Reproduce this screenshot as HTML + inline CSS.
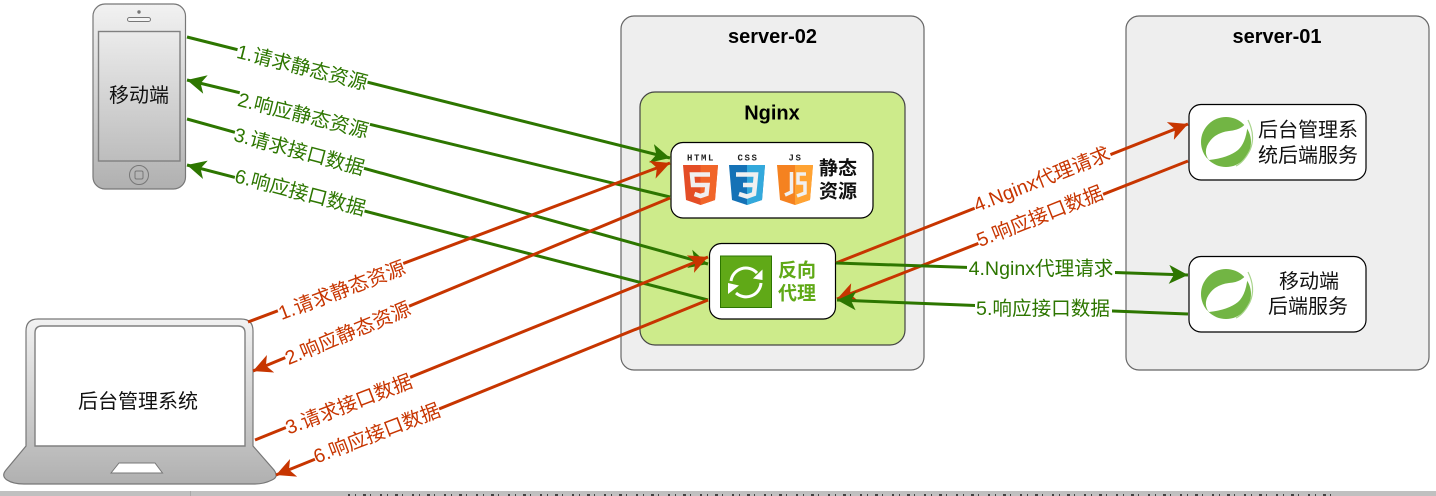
<!DOCTYPE html>
<html><head><meta charset="utf-8"><style>
html,body{margin:0;padding:0;background:#fff;width:1436px;height:496px;overflow:hidden}
svg{display:block}
text{font-family:"Liberation Sans","Noto Sans CJK SC",sans-serif}
.t{font-size:20px;fill:#111;text-anchor:middle;dominant-baseline:central}
.b{font-weight:bold;font-size:20px;fill:#000;text-anchor:middle;dominant-baseline:central}
.s{font-weight:bold;font-size:19px;fill:#111;text-anchor:middle;dominant-baseline:central}
.g{font-size:19.6px;fill:#2d7600;text-anchor:middle;dominant-baseline:central}
.o{font-size:19.6px;fill:#c73500;text-anchor:middle;dominant-baseline:central}
.m{font-size:9px;font-weight:bold;text-anchor:middle;dominant-baseline:central;fill:#222;font-family:"Liberation Mono",monospace;letter-spacing:1.6px}
.lg{stroke:#2d7600;stroke-width:3;fill:none;marker-end:url(#ag)}
.lo{stroke:#c73500;stroke-width:3;fill:none;marker-end:url(#ao)}
</style></head><body>
<svg width="1436" height="496" viewBox="0 0 1436 496" xmlns="http://www.w3.org/2000/svg">
<defs>
<marker id="ag" markerUnits="userSpaceOnUse" markerWidth="22" markerHeight="22" refX="19" refY="10" orient="auto"><path d="M19 10L0 0.500L5 10L0 19.500Z" fill="#2d7600"/></marker>
<marker id="ao" markerUnits="userSpaceOnUse" markerWidth="22" markerHeight="22" refX="19" refY="10" orient="auto"><path d="M19 10L0 0.500L5 10L0 19.500Z" fill="#c73500"/></marker>
<linearGradient id="dev" x1="0" y1="0" x2="0" y2="1"><stop offset="0" stop-color="#f2f2f2"/><stop offset="1" stop-color="#b0b0b0"/></linearGradient>
<linearGradient id="scr" x1="0" y1="0" x2="0" y2="1"><stop offset="0" stop-color="#ebebeb"/><stop offset="1" stop-color="#bdbdbd"/></linearGradient>
</defs>

<rect x="621" y="16" width="303" height="354" rx="13" fill="#eeeeee" stroke="#666" stroke-width="1.2"/>
<rect x="1126" y="16" width="303" height="354" rx="13" fill="#eeeeee" stroke="#666" stroke-width="1.2"/>
<text x="772.500" y="37" class="b">server-02</text>
<text x="1277" y="37" class="b">server-01</text>
<rect x="640" y="92" width="265" height="253" rx="15" fill="#cdeb8b" stroke="#444" stroke-width="1.2"/>
<text x="772" y="113.500" class="b">Nginx</text>

<rect x="671" y="142.500" width="202" height="75.500" rx="12" fill="#fff" stroke="#000" stroke-width="1.2"/>
<rect x="709.500" y="243.500" width="126" height="75.500" rx="12" fill="#fff" stroke="#000" stroke-width="1.2"/>
<rect x="1189" y="104.500" width="177" height="75.500" rx="12" fill="#fff" stroke="#000" stroke-width="1.2"/>
<rect x="1189" y="256.500" width="177" height="75.500" rx="12" fill="#fff" stroke="#000" stroke-width="1.2"/>

<!-- phone -->
<rect x="93" y="4" width="92.500" height="185" rx="12" fill="url(#dev)" stroke="#777" stroke-width="1.2"/>
<circle cx="139" cy="12" r="1.700" fill="#777"/>
<rect x="127.500" y="17.500" width="23" height="4" rx="2" fill="#f4f4f4" stroke="#777"/>
<rect x="98.500" y="31.500" width="81.500" height="129.500" fill="url(#scr)" stroke="#808080" stroke-width="1.4"/>
<circle cx="139" cy="175" r="9.500" fill="none" stroke="#777"/>
<rect x="135" y="171" width="8" height="8" rx="1.500" fill="none" stroke="#777"/>
<text x="139" y="96" class="t">移动端</text>

<!-- laptop -->
<path d="M26 446V331Q26 319 38 319H241Q253 319 253 331V446L274 470Q279 477 272 480Q264 484 255 484H24Q13 484 7 480Q1 476 6 470Z" fill="url(#dev)" stroke="#777" stroke-width="1.2"/>
<path d="M35 446V333Q35 326 42 326H238Q245 326 245 333V446Z" fill="#fff" stroke="#808080" stroke-width="1.4"/>
<path d="M111 473L119 463H155L162.500 473Z" fill="#fff" stroke="#777"/>
<text x="138" y="402" class="t">后台管理系统</text>

<!-- green left -->
<line x1="187" y1="37" x2="670" y2="158" class="lg"/>
<line x1="670" y1="197" x2="187" y2="80" class="lg"/>
<line x1="187" y1="119" x2="708" y2="264" class="lg"/>
<line x1="708" y1="300" x2="187" y2="165" class="lg"/>
<!-- orange left -->
<line x1="248" y1="322" x2="670" y2="163" class="lo"/>
<line x1="670" y1="198" x2="253" y2="371" class="lo"/>
<line x1="255" y1="440" x2="708" y2="257" class="lo"/>
<line x1="708" y1="300" x2="276" y2="475" class="lo"/>
<!-- right -->
<line x1="836" y1="263" x2="1188" y2="124" class="lo"/>
<line x1="1188" y1="161" x2="837" y2="299" class="lo"/>
<line x1="836" y1="263" x2="1188" y2="275" class="lg"/>
<line x1="1188" y1="314" x2="837" y2="300" class="lg"/>

<!-- labels -->
<g transform="rotate(14 302 68)"><rect x="235" y="56" width="134" height="24" fill="#fff"/><text x="302" y="68" class="g">1.请求静态资源</text></g>
<g transform="rotate(14 303 116)"><rect x="236" y="104" width="134" height="24" fill="#fff"/><text x="303" y="116" class="g">2.响应静态资源</text></g>
<g transform="rotate(15 299 152)"><rect x="232" y="140" width="134" height="24" fill="#fff"/><text x="299" y="152" class="g">3.请求接口数据</text></g>
<g transform="rotate(14.500 300 193)"><rect x="233" y="181" width="134" height="24" fill="#fff"/><text x="300" y="193" class="g">6.响应接口数据</text></g>
<g transform="rotate(-20.600 342 291)"><rect x="275" y="279" width="134" height="24" fill="#fff"/><text x="342" y="291" class="o">1.请求静态资源</text></g>
<g transform="rotate(-22.500 348 334)"><rect x="281" y="322" width="134" height="24" fill="#fff"/><text x="348" y="334" class="o">2.响应静态资源</text></g>
<g transform="rotate(-21 349 405)"><rect x="282" y="393" width="134" height="24" fill="#fff"/><text x="349" y="405" class="o">3.请求接口数据</text></g>
<g transform="rotate(-21 377 434)"><rect x="310" y="422" width="134" height="24" fill="#fff"/><text x="377" y="434" class="o">6.响应接口数据</text></g>
<g transform="rotate(-21.500 1042 180)"><rect x="969" y="168" width="146" height="24" fill="#fff"/><text x="1042" y="180" class="o">4.Nginx代理请求</text></g>
<g transform="rotate(-21.500 1040 217)"><rect x="973" y="205" width="134" height="24" fill="#fff"/><text x="1040" y="217" class="o">5.响应接口数据</text></g>
<rect x="967" y="258" width="148" height="22" fill="#fff"/><text x="1041" y="269" class="g">4.Nginx代理请求</text>
<rect x="975" y="298" width="137" height="22" fill="#fff"/><text x="1043" y="309" class="g">5.响应接口数据</text>

<!-- static icons -->
<text x="701" y="158.500" class="m">HTML</text>
<path d="M683 165H718L715 200L700.500 205L686 200Z" fill="#e44d26"/><path d="M700.500 165H718L715 200L700.500 205Z" fill="#f16529"/>
<path d="M710 174.500H692L693 185H707.500L706.500 194L700.500 196L694.500 194" fill="none" stroke="#f0f0f0" stroke-width="4.500"/>
<text x="748" y="158.500" class="m">CSS</text>
<path d="M729 165H765L762 200L747 205L732 200Z" fill="#1572b6"/><path d="M747 165H765L762 200L747 205Z" fill="#33a9dc"/>
<path d="M736 174.500H756L755 185H743M755 185L754 194L747 196.500L739 194" fill="none" stroke="#f0f0f0" stroke-width="4.500"/>
<text x="795.500" y="158.500" class="m">JS</text>
<path d="M777 165H813L810 200L795 205L780 200Z" fill="#f58220"/><path d="M795 165H813L810 200L795 205Z" fill="#ffa333"/>
<path d="M791.500 172V192L785 195M806 174H798V183H805V193L797 196" fill="none" stroke="#f0f0f0" stroke-width="3.500"/>
<text x="838" y="169" class="s">静态</text>
<text x="838" y="192" class="s">资源</text>

<!-- proxy icon -->
<rect x="720.500" y="256" width="51" height="51.500" fill="#60a917" stroke="#2d7600"/>
<path d="M731 281A15 15 0 0 1 757 273" fill="none" stroke="#fff" stroke-width="3"/>
<path d="M761 283A15 15 0 0 1 736 293" fill="none" stroke="#fff" stroke-width="3"/>
<path d="M762.500 269.500V280L753 278.500Z" fill="#fff"/><path d="M728 283V294L739 285.500Z" fill="#fff"/>
<text x="797" y="271" class="s" style="fill:#60a917">反向</text>
<text x="797" y="294" class="s" style="fill:#60a917">代理</text>

<!-- spring icons -->
<circle cx="1226" cy="142" r="25" fill="#72b544"/>
<path d="M1248 120Q1243 130 1229 131Q1213 133 1207 146Q1204 154 1209 160Q1228 158 1238 150Q1247 142 1248 120Z" fill="#fff"/>
<path d="M1248 120Q1256 136 1250 150Q1244 162 1236 166" fill="none" stroke="#a9d48c" stroke-width="1.2"/>
<path d="M1209 161Q1234 158 1246 136" fill="none" stroke="#fff" stroke-width="1" opacity="0"/>
<circle cx="1206.500" cy="160" r="1.800" fill="#fff"/>
<circle cx="1226" cy="294" r="25" fill="#72b544"/>
<path d="M1248 272Q1243 282 1229 283Q1213 285 1207 298Q1204 306 1209 312Q1228 310 1238 302Q1247 294 1248 272Z" fill="#fff"/>
<path d="M1248 272Q1256 288 1250 302Q1244 314 1236 318" fill="none" stroke="#a9d48c" stroke-width="1.2"/>
<circle cx="1206.500" cy="312" r="1.800" fill="#fff"/>
<text x="1308" y="130.500" class="t">后台管理系</text>
<text x="1308" y="156" class="t">统后端服务</text>
<text x="1309" y="282" class="t">移动端</text>
<text x="1308" y="307" class="t">后端服务</text>

<!-- bottom bar -->
<rect x="0" y="491" width="1436" height="5" fill="#c0c0c0"/>
<rect x="190" y="491" width="1" height="5" fill="#a8a8a8"/>
<line x1="348" y1="495" x2="1340" y2="495" stroke="#444" stroke-width="2" stroke-dasharray="2 5 1 7 3 4 1 9"/>
</svg>
</body></html>
